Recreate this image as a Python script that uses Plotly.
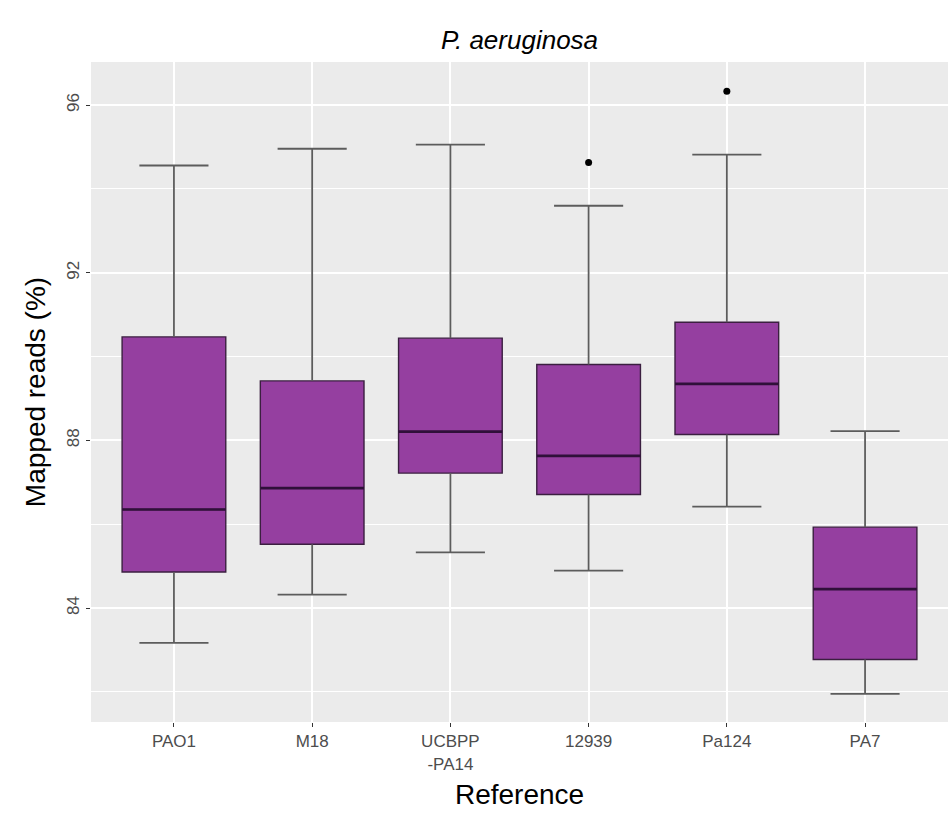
import plotly.graph_objects as go

# ---- data ----
references = ["PAO1", "M18", "UCBPP<br>-PA14", "12939", "Pa124", "PA7"]
lower_whisker = [83.17, 84.32, 85.33, 84.89, 86.42, 81.95]
q1 = [84.86, 85.52, 87.22, 86.71, 88.14, 82.77]
median = [86.35, 86.86, 88.21, 87.63, 89.35, 84.45]
q3 = [90.47, 89.42, 90.44, 89.81, 90.82, 85.93]
upper_whisker = [94.56, 94.96, 95.06, 93.60, 94.82, 88.22]
outlier_refs = ["12939", "Pa124"]
outlier_vals = [94.63, 96.33]
y_ticks = [84, 88, 92, 96]
y_minor = [82, 86, 90, 94]

# ---- styling ----
FILL = "#953FA0"
EDGE = "#3B1F40"
MEDIAN_COL = "#30103A"
WHISK = "#5C5C5C"
BOX_W = 0.75
CAP_HALF = 0.25
FONT = "Liberation Sans, Arial, Helvetica, sans-serif"
TXT = "#4D4D4D"

pos = list(range(len(references)))
plain_names = [r.replace("<br>", "") for r in references]

fig = go.Figure()

# boxes (whiskers drawn separately as an errorbar layer)
fig.add_trace(go.Box(
    x=pos, q1=q1, median=median, q3=q3,
    lowerfence=q1, upperfence=q3,
    width=BOX_W, fillcolor=FILL,
    line=dict(color=EDGE, width=1.4),
    whiskerwidth=0, boxpoints=False, showlegend=False, hoverinfo="skip",
))

# whiskers + caps
wx, wy = [], []
for i, lw, a, b, uw in zip(pos, lower_whisker, q1, q3, upper_whisker):
    wx += [i, i, None, i, i, None, i - CAP_HALF, i + CAP_HALF, None, i - CAP_HALF, i + CAP_HALF, None]
    wy += [lw, a, None, b, uw, None, lw, lw, None, uw, uw, None]
fig.add_trace(go.Scatter(x=wx, y=wy, mode="lines",
                         line=dict(color=WHISK, width=1.8),
                         showlegend=False, hoverinfo="skip"))

# medians
mx, my = [], []
for i, m in zip(pos, median):
    mx += [i - BOX_W / 2, i + BOX_W / 2, None]
    my += [m, m, None]
fig.add_trace(go.Scatter(x=mx, y=my, mode="lines",
                         line=dict(color=MEDIAN_COL, width=2.6),
                         showlegend=False, hoverinfo="skip"))

# outliers
ox = [plain_names.index(r) for r in outlier_refs]
fig.add_trace(go.Scatter(x=ox, y=outlier_vals, mode="markers",
                         marker=dict(color="black", size=7),
                         showlegend=False, hoverinfo="skip"))

fig.update_layout(
    width=950, height=821,
    margin=dict(l=91, r=2, t=62, b=99),
    paper_bgcolor="white", plot_bgcolor="#EBEBEB",
    font=dict(family=FONT, color=TXT),
    title=dict(text="<i>P. aeruginosa</i>", x=0.5, xref="paper",
               y=1 - 40 / 821, yref="container", yanchor="middle",
               font=dict(size=26, color="black", family=FONT)),
)
fig.update_xaxes(
    range=[-0.6, len(references) - 0.4],
    tickvals=pos, ticktext=references,
    showgrid=True, gridcolor="white", gridwidth=1.6, zeroline=False,
    ticks="outside", ticklen=4, tickcolor="#333333", tickwidth=1,
    tickfont=dict(size=17, color=TXT),
    title=dict(text="Reference", font=dict(size=28, color="black"), standoff=11),
    showline=False,
)
fig.update_yaxes(
    range=[81.28, 97.03],
    tickvals=y_ticks, tickangle=-90,
    showgrid=True, gridcolor="white", gridwidth=1.6, zeroline=False,
    ticks="outside", ticklen=4, tickcolor="#333333", tickwidth=1,
    tickfont=dict(size=17, color=TXT),
    minor=dict(tickvals=y_minor, showgrid=True, gridcolor="white", gridwidth=0.8, ticks=""),
    title=dict(text="Mapped reads (%)", font=dict(size=28, color="black"), standoff=10),
    showline=False,
)

fig.write_html("out.html")
